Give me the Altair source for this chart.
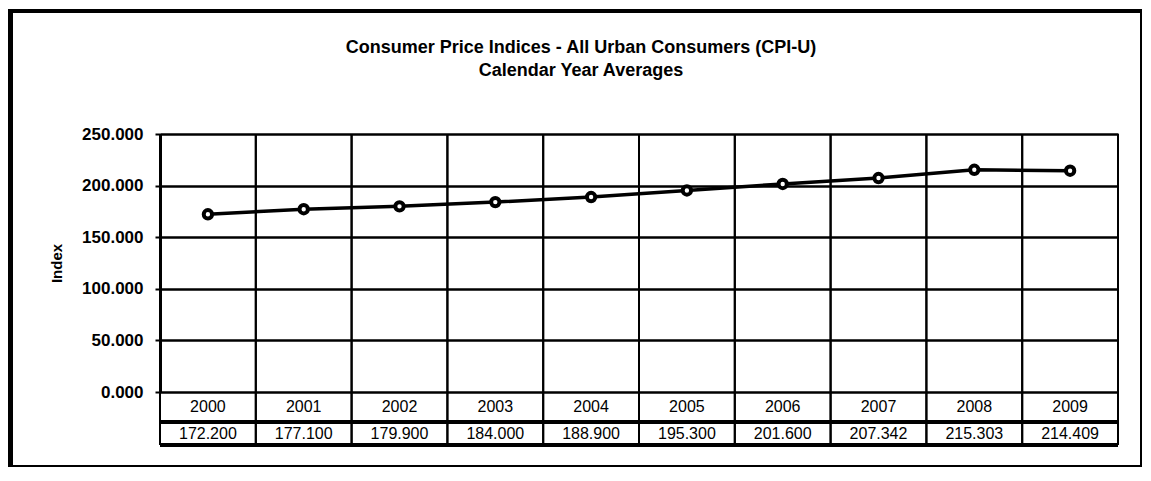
import altair as alt
import pandas as pd

years = ["2000", "2001", "2002", "2003", "2004", "2005", "2006", "2007", "2008", "2009"]
cpi = [172.200, 177.100, 179.900, 184.000, 188.900, 195.300, 201.600, 207.342, 215.303, 214.409]
y_ticks = [0, 50, 100, 150, 200, 250]

title_line1 = "Consumer Price Indices - All Urban Consumers (CPI-U)"
title_line2 = "Calendar Year Averages"
y_title = "Index"

df = pd.DataFrame({"year": years, "cpi": cpi})
df["label"] = [f"{v:.3f}" for v in cpi]

W, H = 958, 258
ROW1 = H + 30   # line between year row and value row
ROW2 = H + 53   # bottom of the data table
FONT = "Liberation Sans"

xscale = alt.Scale(domain=years, paddingInner=0, paddingOuter=0)
base = alt.Chart(df)

yenc = alt.Y(
    "cpi:Q",
    scale=alt.Scale(domain=[0, 250], nice=False, zero=True),
    axis=alt.Axis(
        values=y_ticks, format=".3f", title=y_title,
        labelFont=FONT, labelFontSize=17, labelFontWeight="bold", labelColor="black",
        labelPadding=12, tickSize=5, tickColor="black", tickWidth=2,
        domainColor="black", domainWidth=3,
        grid=True, gridColor="black", gridWidth=2.5, gridOpacity=1,
        titleFont=FONT, titleFontSize=15, titleFontWeight="bold", titleColor="black",
        titleX=-96, titleY=H / 2, titleAngle=-90,
    ),
)

line = base.mark_line(color="black", strokeWidth=3.5).encode(
    x=alt.X("year:O", scale=xscale, axis=None),
    y=yenc,
)
points = base.mark_point(shape="circle", filled=True, fill="white", stroke="black",
                         strokeWidth=4, size=70, opacity=1).encode(
    x=alt.X("year:O", scale=xscale, axis=None),
    y=alt.Y("cpi:Q"),
)

vlines_left = base.mark_rule(color="black", strokeWidth=2).encode(
    x=alt.X("year:O", scale=xscale, axis=None, bandPosition=0),
    y=alt.value(0), y2=alt.value(ROW2),
)
vlines_right = base.mark_rule(color="black", strokeWidth=2).encode(
    x=alt.X("year:O", scale=xscale, axis=None, bandPosition=1),
    y=alt.value(0), y2=alt.value(ROW2),
)
hline1 = base.mark_rule(color="black", strokeWidth=3).encode(
    x=alt.value(0), x2=alt.value(W), y=alt.value(ROW1)
)
hline2 = base.mark_rule(color="black", strokeWidth=3).encode(
    x=alt.value(0), x2=alt.value(W), y=alt.value(ROW2)
)

year_text = base.mark_text(font=FONT, fontSize=16, color="black", baseline="middle").encode(
    x=alt.X("year:O", scale=xscale, axis=None),
    y=alt.value(H + 15),
    text="year:N",
)
val_text = base.mark_text(font=FONT, fontSize=16, color="black", baseline="middle").encode(
    x=alt.X("year:O", scale=xscale, axis=None),
    y=alt.value(H + 42),
    text="label:N",
)

# chart title (drawn as text so it sits inside the outer frame)
title1 = alt.Chart().mark_text(font=FONT, fontSize=18, fontWeight="bold", color="black",
                               align="center", baseline="alphabetic").encode(
    x=alt.value(W / 2 - 58), y=alt.value(-81), text=alt.value(title_line1)
)
title2 = alt.Chart().mark_text(font=FONT, fontSize=18, fontWeight="bold", color="black",
                               align="center", baseline="alphabetic").encode(
    x=alt.value(W / 2 - 58), y=alt.value(-58), text=alt.value(title_line2)
)

# outer frame of the chart area
frame = base.mark_rect(fill=None, stroke="black", strokeWidth=2).encode(
    x=alt.value(-150), x2=alt.value(W + 23), y=alt.value(-123), y2=alt.value(H + 74)
)
frame_left = base.mark_rule(color="black", strokeWidth=8).encode(
    x=alt.value(-151), y=alt.value(-125), y2=alt.value(H + 75)
)
frame_top = base.mark_rule(color="black", strokeWidth=4).encode(
    x=alt.value(-155), x2=alt.value(W + 24), y=alt.value(-123)
)

chart = alt.layer(
    frame, frame_left, frame_top, title1, title2,
    vlines_left, vlines_right, hline1, hline2,
    line, points, year_text, val_text,
).properties(
    width=W, height=H,
    autosize=alt.AutoSizeParams(type="none"),
    padding={"left": 152, "top": 126, "right": 25, "bottom": 76},
).configure_view(stroke=None).configure(background="white")

chart.save("out.html", embed_options={"renderer": "svg", "actions": False})
